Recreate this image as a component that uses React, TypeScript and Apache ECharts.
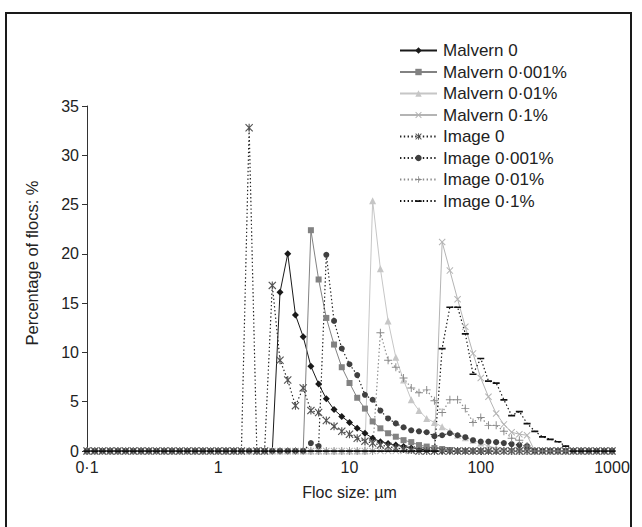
import React, { useEffect, useRef } from "react";
import * as echarts from "echarts";

// Size classes (µm), log-spaced bins shared by all series
const SIZES = [
  0.1, 0.1145, 0.1311, 0.1501, 0.1719, 0.1968, 0.2254, 0.2581, 0.2955, 0.3384,
  0.3875, 0.4437, 0.508, 0.5817, 0.6661, 0.7627, 0.8733, 1, 1.145, 1.311,
  1.501, 1.719, 1.968, 2.254, 2.581, 2.955, 3.384, 3.875, 4.437, 5.08,
  5.817, 6.661, 7.627, 8.733, 10, 11.45, 13.11, 15.01, 17.19, 19.68,
  22.54, 25.81, 29.55, 33.84, 38.75, 44.37, 50.8, 58.17, 66.61, 76.27,
  87.33, 100, 114.5, 131.1, 150.1, 171.9, 196.8, 225.4, 258.1, 295.5,
  338.4, 387.5, 443.7, 508, 581.7, 666.1, 762.7, 873.3, 1000,
];

// Each series: index of first non-zero size class + values (zero elsewhere)
const MALVERN_0_START = 25;
const MALVERN_0 = [16.1, 20.0, 13.8, 11.6, 8.6, 6.8, 5.3, 4.2, 3.5, 2.9, 2.3, 1.8, 1.3, 0.95, 0.75, 0.6, 0.45, 0.3, 0.2, 0.1, 0.05];
const MALVERN_0001_START = 29;
const MALVERN_0001 = [22.4, 17.4, 13.5, 10.8, 8.5, 6.9, 5.4, 4.3, 3.0, 2.3, 1.8, 1.45, 1.1, 0.9, 0.6, 0.45, 0.3, 0.2, 0.1];
const MALVERN_001_START = 37;
const MALVERN_001 = [25.4, 18.5, 13.2, 9.5, 7.2, 5.2, 4.1, 3.3, 2.9, 2.45, 2.0, 1.6, 1.35, 1.1, 0.8, 0.5, 0.3, 0.1];
const MALVERN_01_START = 46;
const MALVERN_01 = [21.2, 18.3, 15.4, 12.6, 9.9, 7.4, 5.5, 3.8, 2.7, 1.9, 1.7, 1.6];
const IMAGE_0_START = 21;
const IMAGE_0 = [32.8, 0, 0, 16.8, 9.2, 7.2, 4.6, 6.4, 4.1, 3.9, 3.1, 2.5, 2.0, 1.7, 1.3, 1.0, 0.8, 0.6, 0.45, 0.3, 0.2, 0.1];
const IMAGE_0001_START = 29;
const IMAGE_0001 = [0.8, 0.5, 19.9, 13.2, 10.4, 8.8, 7.7, 5.7, 5.2, 4.1, 3.3, 2.8, 2.4, 2.1, 2.0, 1.9, 1.5, 1.6, 1.8, 1.6, 1.4, 1.1, 0.95, 0.95, 0.9, 0.8, 0.7, 0.6, 0.5];
const IMAGE_001_START = 38;
const IMAGE_001 = [12.0, 9.2, 8.5, 7.4, 6.4, 5.9, 6.2, 5.1, 3.9, 5.2, 5.2, 4.3, 2.9, 3.4, 2.6, 2.6, 2.0, 1.3, 1.1, 0.5];
const IMAGE_01_START = 46;
const IMAGE_01 = [10.4, 14.6, 14.6, 11.9, 7.8, 9.4, 7.1, 6.9, 5.2, 3.6, 4.0, 2.8, 2.0, 1.45, 1.2, 0.95, 0.5];

const SERIES_NAMES = [
  "Malvern 0", "Malvern 0·001%", "Malvern 0·01%", "Malvern 0·1%",
  "Image 0", "Image 0·001%", "Image 0·01%", "Image 0·1%",
];
const X_TICK_LABELS = ["0·1", "1", "10", "100", "1000"];
const Y_TICKS_MAX = 35;
const Y_TICK_STEP = 5;

const FONT = "'Liberation Sans', Arial, sans-serif";

const X_PATH = "path://M1,0 L5,4 L9,0 L10,1 L6,5 L10,9 L9,10 L5,6 L1,10 L0,9 L4,5 L0,1 Z";
const PLUS_PATH = "path://M4.4,0 H5.6 V4.4 H10 V5.6 H5.6 V10 H4.4 V5.6 H0 V4.4 H4.4 Z";
const AST_PATH = "path://M1,0 L5,4 L9,0 L10,1 L6,5 L10,9 L9,10 L5,6 L1,10 L0,9 L4,5 L0,1 Z M4.3,0 H5.7 V10 H4.3 Z";
// flat dash centred in a square box (degenerate corner points keep the box square)
const DASH_PATH = "path://M0,0 L0.01,0 Z M0,4 H10 V6.4 H0 Z M10,10 L9.99,10 Z";

function toData(start: number, vals: number[]) {
  return SIZES.map((s, i) => [s, i >= start && i < start + vals.length ? vals[i - start] : 0]);
}

export default function App() {
  const ref = useRef<HTMLDivElement>(null);
  useEffect(() => {
    if (!ref.current) return;
    const chart = echarts.init(ref.current, null, { renderer: "svg" });
    const solid = (name: string, data: any, color: string, symbol: string, size: any) => ({
      name, type: "line", data, symbol, symbolSize: size, showSymbol: true,
      lineStyle: { color, width: 1, type: "solid" },
      itemStyle: { color },
      emphasis: { disabled: true },
    });
    const dotted = (name: string, data: any, lineColor: string, color: string, symbol: string, size: any) => ({
      name, type: "line", data, symbol, symbolSize: size, showSymbol: true,
      lineStyle: { color: lineColor, width: 1.2, type: [1.4, 2.4] },
      itemStyle: { color },
      emphasis: { disabled: true },
    });
    const option: any = {
      animation: false,
      backgroundColor: "#ffffff",
      textStyle: { fontFamily: FONT },
      grid: { left: 87, right: 30, top: 106, bottom: 76, containLabel: false },
      legend: {
        left: 399, top: 42, orient: "vertical", padding: 0,
        itemWidth: 37, itemHeight: 8, itemGap: 4.5,
        textStyle: { fontFamily: FONT, fontSize: 17, color: "#222", lineHeight: 16, padding: [0, 0, 0, 1] },
        data: SERIES_NAMES,
      },
      xAxis: {
        type: "log", logBase: 10, min: 0.1, max: 1000,
        name: "Floc size: µm", nameLocation: "middle", nameGap: 33,
        nameTextStyle: { fontFamily: FONT, fontSize: 16, color: "#222" },
        axisLine: { show: true, lineStyle: { color: "#333", width: 1 } },
        axisTick: { show: true, inside: false, length: 4, lineStyle: { color: "#333" } },
        minorTick: { show: false },
        splitLine: { show: false },
        axisLabel: {
          fontFamily: FONT, fontSize: 16, color: "#222", margin: 8,
          formatter: (v: number) => X_TICK_LABELS[Math.round(Math.log10(v)) + 1],
        },
      },
      yAxis: {
        type: "value", min: 0, max: Y_TICKS_MAX, interval: Y_TICK_STEP,
        axisLine: { show: true, lineStyle: { color: "#333", width: 1 } },
        axisTick: { show: true, inside: false, length: 5, lineStyle: { color: "#333" } },
        splitLine: { show: false },
        axisLabel: { fontFamily: FONT, fontSize: 16, color: "#222", margin: 8 },
      },
      graphic: [
        { type: "rect", shape: { x: 6, y: 13, width: 625, height: 520 }, style: { fill: "none", stroke: "#1a1a1a", lineWidth: 2 }, silent: true },
        { type: "text", x: 32, y: 263, rotation: Math.PI / 2, style: { text: "Percentage of flocs: %", fontFamily: FONT, fontSize: 16.5, fill: "#222", textAlign: "center", textVerticalAlign: "middle" } },
      ],
      series: [
        solid(SERIES_NAMES[0], toData(MALVERN_0_START, MALVERN_0), "#1a1a1a", "diamond", 7),
        solid(SERIES_NAMES[1], toData(MALVERN_0001_START, MALVERN_0001), "#828282", "rect", 6),
        solid(SERIES_NAMES[2], toData(MALVERN_001_START, MALVERN_001), "#c6c6c6", "triangle", 7),
        solid(SERIES_NAMES[3], toData(MALVERN_01_START, MALVERN_01), "#b4b4b4", X_PATH, 7),
        dotted(SERIES_NAMES[4], toData(IMAGE_0_START, IMAGE_0), "#222", "#555", AST_PATH, 8),
        dotted(SERIES_NAMES[5], toData(IMAGE_0001_START, IMAGE_0001), "#222", "#404040", "circle", 6),
        dotted(SERIES_NAMES[6], toData(IMAGE_001_START, IMAGE_001), "#8a8a8a", "#8a8a8a", PLUS_PATH, 8),
        dotted(SERIES_NAMES[7], toData(IMAGE_01_START, IMAGE_01), "#111", "#111", DASH_PATH, 7),
      ],
    };
    chart.setOption(option);
    return () => chart.dispose();
  }, []);
  return (
    <div
      ref={ref}
      style={{ position: "fixed", left: 0, top: 0, width: 642, height: 527, background: "#fff" }}
    />
  );
}
